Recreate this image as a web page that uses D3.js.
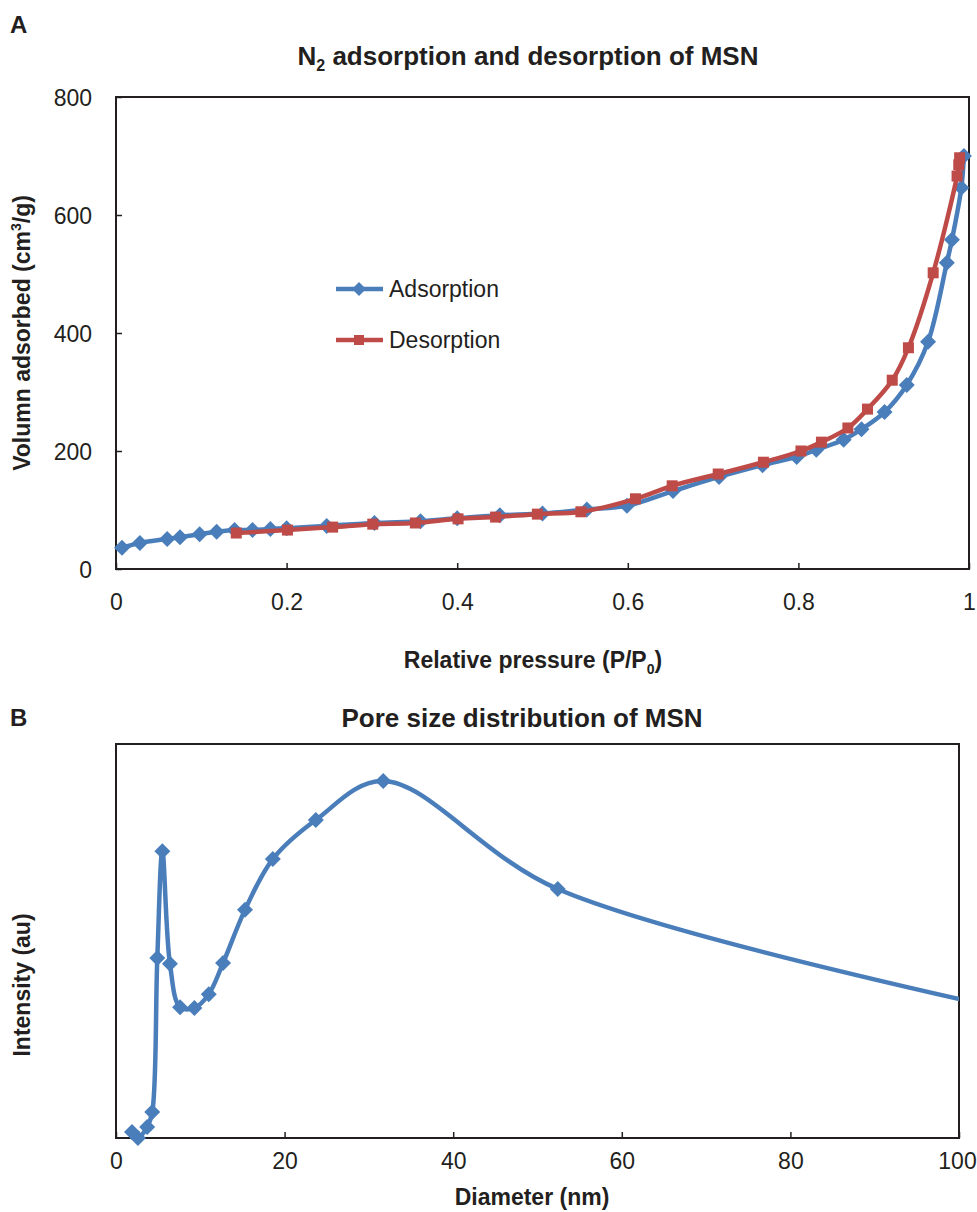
<!DOCTYPE html>
<html>
<head>
<meta charset="utf-8">
<script src="https://cdn.jsdelivr.net/npm/d3@7"></script>
<style>
  body { margin: 0; background: #fff; }
  text { font-family: "Liberation Sans", Arial, sans-serif; fill: #231f20; }
</style>
</head>
<body>
<div id="chart"></div>
<script>
// panel A: N2 isotherm
const adsP = [0.007, 0.028, 0.06, 0.075, 0.098, 0.118, 0.139, 0.16, 0.181, 0.2, 0.247, 0.303, 0.357, 0.40, 0.45, 0.50, 0.552, 0.599, 0.653, 0.707, 0.758, 0.798, 0.821, 0.853, 0.874, 0.901, 0.927, 0.952, 0.974, 0.98, 0.991, 0.994];
const adsV = [36, 44, 51, 54, 59, 63, 66, 66, 68, 69, 73, 78, 81, 86, 91, 94, 101, 107, 132, 156, 176, 190, 202, 219, 237, 266, 312, 385, 519, 558, 646, 700];
const desP = [0.141, 0.201, 0.254, 0.301, 0.351, 0.401, 0.445, 0.494, 0.545, 0.609, 0.652, 0.706, 0.759, 0.803, 0.827, 0.858, 0.881, 0.91, 0.929, 0.958, 0.986, 0.988, 0.989];
const desV = [61, 66, 71, 76, 78, 85, 88, 93, 97, 119, 141, 161, 181, 200, 215, 239, 271, 320, 375, 502, 666, 685, 697];
const pTicks = [0, 0.2, 0.4, 0.6, 0.8, 1];
const vTicks = [0, 200, 400, 600, 800];

// panel B: pore size distribution (last point lies past the axis and is clipped)
const poreD = [1.9, 2.6, 3.7, 4.3, 4.9, 5.5, 6.4, 7.6, 9.3, 11.0, 12.7, 15.3, 18.6, 23.7, 31.7, 52.4, 110];
const poreI = [1.5, 0, 2.8, 6.6, 45.7, 72.8, 44.2, 33.2, 33.0, 36.5, 44.4, 57.9, 70.8, 80.7, 90.6, 63.2, 30.6];
const dTicks = [0, 20, 40, 60, 80, 100];

const blue = "#4a7ebb";
const red = "#be4b48";
const ink = "#231f20";

const width = 977, height = 1212;
const svg = d3.select("#chart").append("svg")
  .attr("width", width)
  .attr("height", height);

const line = d3.line()
  .x(d => d.x)
  .y(d => d.y)
  .curve(d3.curveCatmullRom.alpha(0.5));

function drawFrame(g, w, h) {
  g.append("rect")
    .attr("width", w)
    .attr("height", h)
    .attr("fill", "none")
    .attr("stroke", ink)
    .attr("stroke-width", 2);
}

function styleAxis(sel) {
  sel.select(".domain").remove();
  sel.selectAll(".tick line").attr("stroke", ink).attr("stroke-width", 1.5);
  sel.selectAll(".tick text")
    .attr("font-size", 23)
    .attr("font-family", "Liberation Sans, Arial, sans-serif")
    .attr("fill", ink);
}

function diamond(g, cx, cy, r, color) {
  g.append("path")
    .attr("d", `M${cx},${cy - r}L${cx + r},${cy}L${cx},${cy + r}L${cx - r},${cy}Z`)
    .attr("fill", color);
}

// ---------- panel A ----------
const mA = { left: 116, top: 97, right: 969, bottom: 569 };
const wA = mA.right - mA.left, hA = mA.bottom - mA.top;
const gA = svg.append("g").attr("transform", `translate(${mA.left},${mA.top})`);

const xA = d3.scaleLinear().domain([0, 1]).range([0, wA]);
const yA = d3.scaleLinear().domain([0, 800]).range([hA, 0]);

gA.append("g")
  .attr("transform", `translate(0,${hA})`)
  .call(d3.axisBottom(xA).tickValues(pTicks).tickFormat(d3.format("")).tickSizeInner(-6).tickSizeOuter(0).tickPadding(25))
  .call(styleAxis);

gA.append("g")
  .call(d3.axisLeft(yA).tickValues(vTicks).tickSizeInner(-6).tickSizeOuter(0).tickPadding(24))
  .call(styleAxis)
  .selectAll(".tick text").attr("dy", "0.35em");

drawFrame(gA, wA, hA);

const adsData = adsP.map((p, i) => ({ x: xA(p), y: yA(adsV[i]) }));
const desData = desP.map((p, i) => ({ x: xA(p), y: yA(desV[i]) }));

gA.append("path")
  .attr("d", line(adsData))
  .attr("fill", "none")
  .attr("stroke", blue)
  .attr("stroke-width", 4.5);
adsData.forEach(d => diamond(gA, d.x, d.y, 8, blue));

gA.append("path")
  .attr("d", line(desData))
  .attr("fill", "none")
  .attr("stroke", red)
  .attr("stroke-width", 4.5);
gA.selectAll(".sq")
  .data(desData)
  .join("rect")
  .attr("class", "sq")
  .attr("x", d => d.x - 5.5)
  .attr("y", d => d.y - 5.5)
  .attr("width", 11)
  .attr("height", 11)
  .attr("fill", red);

// legend
const legend = svg.append("g").attr("transform", "translate(336,289)");
legend.append("line").attr("x1", 0).attr("x2", 47).attr("stroke", blue).attr("stroke-width", 4.5);
diamond(legend, 23, 0, 7, blue);
legend.append("text").attr("x", 53).attr("dy", "0.35em").attr("font-size", 23).text("Adsorption");
legend.append("line").attr("x1", 0).attr("x2", 47).attr("y1", 51).attr("y2", 51).attr("stroke", red).attr("stroke-width", 4.5);
legend.append("rect").attr("x", 18).attr("y", 46).attr("width", 10).attr("height", 10).attr("fill", red);
legend.append("text").attr("x", 53).attr("y", 51).attr("dy", "0.35em").attr("font-size", 23).text("Desorption");

// titles A
svg.append("text").attr("x", 10).attr("y", 33).attr("font-size", 24).attr("font-weight", "bold").text("A");

const tA = svg.append("text")
  .attr("x", 528).attr("y", 65)
  .attr("text-anchor", "middle")
  .attr("font-size", 26).attr("font-weight", "bold");
tA.append("tspan").text("N");
tA.append("tspan").attr("font-size", 16).attr("dy", 6).text("2");
tA.append("tspan").attr("dy", -6).text(" adsorption and desorption of MSN");

const xtA = svg.append("text")
  .attr("x", 533).attr("y", 668)
  .attr("text-anchor", "middle")
  .attr("font-size", 23).attr("font-weight", "bold");
xtA.append("tspan").text("Relative pressure (P/P");
xtA.append("tspan").attr("font-size", 14).attr("dy", 6).text("0");
xtA.append("tspan").attr("dy", -6).text(")");

const ytA = svg.append("text")
  .attr("transform", "translate(30,333) rotate(-90)")
  .attr("text-anchor", "middle")
  .attr("font-size", 23).attr("font-weight", "bold");
ytA.append("tspan").text("Volumn adsorbed (cm");
ytA.append("tspan").attr("font-size", 14).attr("dy", -9).text("3");
ytA.append("tspan").attr("dy", 9).text("/g)");

// ---------- panel B ----------
const mB = { left: 116, top: 744, right: 959, bottom: 1138 };
const wB = mB.right - mB.left, hB = mB.bottom - mB.top;
const gB = svg.append("g").attr("transform", `translate(${mB.left},${mB.top})`);

const xB = d3.scaleLinear().domain([0, 100]).range([0, wB]);
const yB = d3.scaleLinear().domain([0, 100]).range([hB, 0]);

svg.append("defs").append("clipPath").attr("id", "clipB")
  .append("rect").attr("x", -10).attr("y", -10).attr("width", wB + 10).attr("height", hB + 20);

gB.append("g")
  .attr("transform", `translate(0,${hB})`)
  .call(d3.axisBottom(xB).tickValues(dTicks).tickSizeInner(-6).tickSizeOuter(0).tickPadding(15))
  .call(styleAxis)
  .selectAll(".tick text")
  .attr("dx", d => d === 100 ? -2 : 0);

drawFrame(gB, wB, hB);

const poreData = poreD.map((d, i) => ({ x: xB(d), y: yB(poreI[i]) }));
const plotB = gB.append("g").attr("clip-path", "url(#clipB)");
plotB.append("path")
  .attr("d", line(poreData))
  .attr("fill", "none")
  .attr("stroke", blue)
  .attr("stroke-width", 4.5);
poreData.forEach(d => diamond(plotB, d.x, d.y, 8, blue));

svg.append("text").attr("x", 10).attr("y", 726).attr("font-size", 24).attr("font-weight", "bold").text("B");

svg.append("text")
  .attr("x", 522).attr("y", 727)
  .attr("text-anchor", "middle")
  .attr("font-size", 26).attr("font-weight", "bold")
  .text("Pore size distribution of MSN");

svg.append("text")
  .attr("x", 532).attr("y", 1205)
  .attr("text-anchor", "middle")
  .attr("font-size", 23).attr("font-weight", "bold")
  .text("Diameter (nm)");

svg.append("text")
  .attr("transform", "translate(30,985) rotate(-90)")
  .attr("text-anchor", "middle")
  .attr("font-size", 23).attr("font-weight", "bold")
  .text("Intensity (au)");
</script>
</body>
</html>
